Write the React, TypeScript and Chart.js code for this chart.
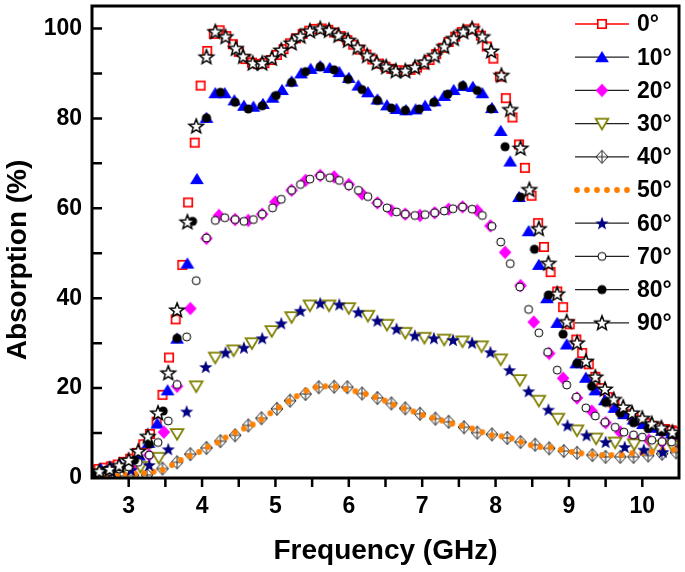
import React, { useEffect, useRef } from 'react';
import { Chart, registerables } from 'chart.js';

Chart.register(...registerables);

// ---------- axis / labels ----------
const xTickValues = [3, 4, 5, 6, 7, 8, 9, 10];
const xTickMarks = [3, 3.5, 4, 4.5, 5, 5.5, 6, 6.5, 7, 7.5, 8, 8.5, 9, 9.5, 10];
const yTickValues = [0, 20, 40, 60, 80, 100];
const yTickMarks = [10, 20, 30, 40, 50, 60, 70, 80, 90, 100];
const xTitle = 'Frequency (GHz)';
const yTitle = 'Absorption (%)';
const seriesLabels = ['0°', '10°', '20°', '30°', '40°', '50°', '60°', '70°', '80°', '90°'];

// ---------- data: [frequency GHz, absorption %] ----------
const deg0: [number, number][] = [
  [2.50,1.8],[2.59,2.0],[2.67,2.3],[2.76,2.6],[2.85,3.0],[2.93,3.6],[3.02,4.3],[3.11,5.6],[3.20,7.5],[3.29,9.8],
  [3.38,12.5],[3.46,18.5],[3.55,26.8],[3.64,35.3],[3.73,47.4],[3.81,61.3],[3.90,74.6],[3.98,87.3],[4.07,95.0],[4.16,98.8],
  [4.24,99.6],[4.33,98.3],[4.42,96.5],[4.50,94.8],[4.59,93.2],[4.68,92.4],[4.76,92.1],[4.85,92.3],[4.94,93.0],[5.02,94.1],
  [5.11,95.4],[5.20,96.7],[5.28,97.8],[5.37,98.8],[5.46,99.5],[5.54,99.9],[5.63,100.0],[5.72,99.7],[5.80,99.1],[5.89,98.3],
  [5.98,97.4],[6.06,96.4],[6.15,95.3],[6.24,94.2],[6.32,93.1],[6.41,92.2],[6.50,91.5],[6.58,91.0],[6.67,90.7],[6.76,90.6],
  [6.84,90.8],[6.93,91.3],[7.02,92.0],[7.10,93.0],[7.19,94.3],[7.28,95.7],[7.36,97.0],[7.45,98.2],[7.54,99.2],[7.62,99.8],
  [7.71,100.0],[7.80,98.4],[7.88,96.0],[7.97,93.3],[8.06,89.3],[8.14,84.5],[8.23,80.2],[8.32,74.2],[8.40,69.0],[8.49,62.8],
  [8.58,56.7],[8.66,51.4],[8.75,45.8],[8.84,41.5],[8.92,38.0],[9.01,34.2],[9.10,30.8],[9.18,27.8],[9.27,25.3],[9.36,22.5],
  [9.44,20.0],[9.53,18.0],[9.62,16.5],[9.70,15.2],[9.79,14.3],[9.88,13.5],[9.96,12.8],[10.05,12.2],[10.14,11.6],[10.22,11.2],
  [10.31,10.9],[10.40,10.6],[10.48,10.3],
];
const deg10: [number, number][] = [
  [2.62,2.0],[2.75,2.4],[2.88,2.9],[3.01,3.6],[3.14,5.0],[3.27,7.8],[3.39,12.1],[3.53,19.5],[3.66,31.0],[3.80,47.7],
  [3.93,66.5],[4.06,80.1],[4.18,85.6],[4.31,85.6],[4.44,84.0],[4.57,82.8],[4.70,82.6],[4.83,83.2],[4.96,84.6],[5.09,86.3],
  [5.22,88.2],[5.35,90.0],[5.48,91.0],[5.61,91.6],[5.74,91.2],[5.87,90.3],[6.00,89.0],[6.13,87.3],[6.26,85.8],[6.39,84.2],
  [6.52,82.9],[6.65,82.1],[6.78,81.8],[6.91,82.0],[7.04,82.8],[7.17,83.8],[7.30,85.0],[7.43,86.3],[7.56,87.2],[7.69,87.0],
  [7.82,85.6],[7.95,82.3],[8.07,77.2],[8.20,70.4],[8.32,62.5],[8.45,54.9],[8.59,47.4],[8.70,40.0],[8.84,34.5],[8.97,29.7],
  [9.10,25.5],[9.23,22.3],[9.36,19.5],[9.49,17.3],[9.62,15.6],[9.75,14.2],[9.88,13.0],[10.01,12.0],[10.14,11.2],[10.27,10.5],
  [10.40,9.9],
];
const deg20: [number, number][] = [
  [2.50,1.2],[2.70,1.5],[2.89,2.0],[3.09,3.0],[3.28,5.1],[3.48,10.2],[3.66,20.4],[3.84,37.7],[4.06,53.3],[4.23,58.4],
  [4.45,57.5],[4.63,57.3],[4.82,58.7],[5.00,61.4],[5.22,64.0],[5.41,66.2],[5.61,67.3],[5.80,67.0],[6.00,65.3],[6.18,63.2],
  [6.39,61.2],[6.58,59.5],[6.77,58.7],[6.97,58.4],[7.17,59.0],[7.36,59.8],[7.55,60.3],[7.75,59.5],[7.93,56.1],[8.13,50.2],
  [8.34,42.8],[8.52,34.7],[8.73,27.7],[8.92,22.2],[9.11,17.8],[9.31,14.9],[9.50,12.3],[9.70,10.2],[9.88,9.1],[10.09,8.4],
  [10.27,8.0],[10.46,7.8],
];
const deg30: [number, number][] = [
  [2.64,1.0],[2.90,1.5],[3.16,2.5],[3.41,4.5],[3.66,9.8],[3.92,20.4],[4.18,26.8],[4.43,28.4],[4.68,30.0],[4.95,32.7],
  [5.22,35.8],[5.47,38.4],[5.73,38.4],[6.00,37.8],[6.26,36.1],[6.52,34.1],[6.77,32.3],[7.03,31.2],[7.30,30.8],[7.55,30.4],
  [7.81,29.3],[8.07,26.4],[8.33,21.8],[8.59,17.2],[8.85,13.2],[9.11,10.6],[9.37,8.8],[9.63,7.9],[9.89,7.5],[10.15,7.2],
  [10.41,7.1],
];
const deg40: [number, number][] = [
  [2.50,0.5],[2.69,0.5],[2.88,0.5],[3.06,0.6],[3.25,0.7],[3.46,2.1],[3.66,3.5],[3.84,5.3],[4.06,6.7],[4.25,8.2],
  [4.45,9.5],[4.63,11.7],[4.81,13.3],[5.02,15.4],[5.20,17.2],[5.41,18.7],[5.59,20.2],[5.80,20.3],[5.98,20.2],[6.18,18.8],
  [6.39,17.8],[6.58,16.6],[6.77,15.5],[6.97,14.3],[7.18,13.2],[7.36,12.5],[7.57,11.3],[7.75,10.1],[7.95,9.7],[8.16,8.9],
  [8.34,8.0],[8.54,7.4],[8.73,6.6],[8.93,6.0],[9.11,5.6],[9.32,5.1],[9.50,4.7],[9.70,4.7],[9.88,4.7],[10.08,5.0],
  [10.27,5.4],[10.46,5.7],
];
const deg50: [number, number][] = [
  [2.59,0.3],[2.71,0.4],[2.84,0.6],[2.96,0.7],[3.09,0.9],[3.21,1.1],[3.34,1.4],[3.46,1.8],[3.59,2.9],[3.71,4.0],
  [3.83,4.9],[3.96,5.8],[4.08,6.9],[4.21,7.9],[4.32,9.0],[4.45,10.1],[4.57,11.0],[4.69,11.9],[4.81,13.0],[4.93,14.4],
  [5.05,15.7],[5.18,17.1],[5.29,18.2],[5.42,19.4],[5.55,20.2],[5.68,20.4],[5.82,20.3],[5.96,19.8],[6.09,19.3],[6.23,18.7],
  [6.36,18.0],[6.49,17.2],[6.61,16.3],[6.75,15.5],[6.88,14.8],[7.01,14.0],[7.14,13.4],[7.27,12.8],[7.41,12.1],[7.54,11.6],
  [7.68,11.0],[7.82,10.2],[7.95,9.5],[8.08,9.3],[8.22,8.8],[8.35,8.0],[8.48,7.3],[8.61,6.9],[8.75,6.8],[8.89,6.3],
  [9.04,5.8],[9.17,5.5],[9.32,5.2],[9.45,5.1],[9.58,5.1],[9.72,5.1],[9.86,5.5],[10.00,5.6],[10.13,5.8],[10.28,6.2],
  [10.43,6.3],
];
const deg60: [number, number][] = [
  [2.51,1.0],[2.77,1.4],[3.03,1.8],[3.28,2.9],[3.54,6.4],[3.79,14.8],[4.05,24.7],[4.32,27.9],[4.57,29.0],[4.82,31.1],
  [5.08,34.4],[5.34,37.2],[5.61,38.9],[5.87,38.6],[6.13,36.9],[6.39,35.0],[6.65,33.2],[6.90,31.7],[7.16,31.1],[7.42,30.7],
  [7.68,30.1],[7.93,28.0],[8.19,24.0],[8.45,19.3],[8.72,15.2],[8.98,11.7],[9.24,9.5],[9.50,8.0],[9.76,6.9],[10.02,6.3],
  [10.28,5.8],
];
const deg70: [number, number][] = [
  [2.50,1.0],[2.61,1.2],[2.74,1.5],[2.87,2.0],[3.00,2.5],[3.13,3.5],[3.28,5.1],[3.40,7.9],[3.54,12.7],[3.66,20.8],
  [3.79,31.4],[3.92,43.9],[4.06,53.4],[4.18,57.3],[4.31,57.9],[4.45,57.5],[4.57,57.1],[4.70,57.5],[4.82,58.7],[4.96,60.1],
  [5.08,62.0],[5.22,64.0],[5.34,65.3],[5.47,66.5],[5.61,67.2],[5.74,66.8],[5.87,66.2],[6.00,65.0],[6.13,64.0],[6.26,62.6],
  [6.39,61.2],[6.52,60.1],[6.65,59.2],[6.77,58.7],[6.90,58.4],[7.04,58.6],[7.17,59.0],[7.30,59.4],[7.42,59.9],[7.55,60.3],
  [7.68,59.8],[7.82,58.4],[7.95,56.0],[8.07,52.5],[8.20,47.7],[8.33,42.5],[8.45,37.5],[8.59,32.3],[8.71,28.0],[8.84,24.0],
  [8.97,20.7],[9.10,18.0],[9.23,15.6],[9.36,13.8],[9.49,12.4],[9.63,11.3],[9.75,10.2],[9.88,9.6],[10.00,9.1],[10.13,8.4],
  [10.27,8.1],[10.40,8.0],
];
const deg80: [number, number][] = [
  [2.50,1.2],[2.70,1.8],[2.89,2.5],[3.08,4.0],[3.28,7.5],[3.47,14.9],[3.66,31.1],[3.87,57.1],[4.06,80.1],[4.25,85.8],
  [4.45,83.6],[4.63,82.1],[4.82,82.8],[5.01,85.1],[5.22,88.0],[5.41,90.4],[5.61,91.5],[5.80,90.8],[5.99,88.7],[6.18,86.4],
  [6.39,84.0],[6.58,82.3],[6.77,81.8],[6.96,82.1],[7.16,83.6],[7.35,85.4],[7.55,87.3],[7.75,86.2],[7.94,82.1],[8.13,73.7],
  [8.34,62.5],[8.53,50.9],[8.72,40.7],[8.92,32.0],[9.11,25.5],[9.31,20.4],[9.50,16.8],[9.70,14.4],[9.88,12.3],[10.08,11.0],
  [10.27,10.2],[10.45,9.6],
];
const deg90: [number, number][] = [
  [2.60,1.5],[2.74,2.0],[2.87,2.8],[3.00,4.0],[3.13,6.0],[3.26,9.3],[3.40,14.5],[3.54,23.4],[3.66,37.4],[3.80,57.0],
  [3.92,78.3],[4.06,93.7],[4.18,99.3],[4.32,98.2],[4.46,95.6],[4.56,93.8],[4.69,92.3],[4.82,92.3],[4.95,93.4],[5.08,95.2],
  [5.22,96.8],[5.34,98.3],[5.47,99.5],[5.61,100.0],[5.73,99.6],[5.86,98.5],[5.99,97.4],[6.12,95.8],[6.25,94.0],[6.38,92.4],
  [6.51,91.5],[6.64,90.6],[6.77,90.6],[6.90,91.4],[7.03,92.5],[7.17,94.0],[7.30,96.0],[7.43,97.8],[7.56,99.3],[7.68,100.0],
  [7.82,98.2],[7.94,95.0],[8.08,89.6],[8.20,82.0],[8.34,73.4],[8.46,64.2],[8.59,55.5],[8.72,47.8],[8.84,41.0],[8.97,34.8],
  [9.11,30.1],[9.23,26.0],[9.36,22.5],[9.49,19.8],[9.61,17.5],[9.74,15.8],[9.86,14.5],[10.00,13.3],[10.13,12.1],[10.26,11.2],
  [10.41,10.2],
];

const allSeries = [deg0, deg10, deg20, deg30, deg40, deg50, deg60, deg70, deg80, deg90];
const markerKinds = ['square', 'triUp', 'diamond', 'triDown', 'diamondCross', 'dot', 'starNavy', 'circleOpen', 'circleFilled', 'starOpen'];

const FONT = "'Liberation Sans', Arial, Helvetica, sans-serif";

function starPath(ctx: CanvasRenderingContext2D, cx: number, cy: number, ro: number, ri: number) {
  ctx.beginPath();
  for (let i = 0; i < 10; i++) {
    const r = i % 2 === 0 ? ro : ri;
    const a = -Math.PI / 2 + (i * Math.PI) / 5;
    const px = cx + r * Math.cos(a);
    const py = cy + r * Math.sin(a);
    if (i === 0) ctx.moveTo(px, py);
    else ctx.lineTo(px, py);
  }
  ctx.closePath();
}

function makeMarker(kind: string): HTMLCanvasElement {
  const S = 20;
  const c = document.createElement('canvas');
  c.width = S;
  c.height = S;
  const ctx = c.getContext('2d') as CanvasRenderingContext2D;
  const m = S / 2;
  ctx.lineJoin = 'miter';
  switch (kind) {
    case 'square':
      ctx.fillStyle = '#fff';
      ctx.fillRect(m - 4.2, m - 4.2, 8.4, 8.4);
      ctx.strokeStyle = '#ff0000';
      ctx.lineWidth = 1.7;
      ctx.strokeRect(m - 4.2, m - 4.2, 8.4, 8.4);
      break;
    case 'triUp':
      ctx.fillStyle = '#0000ff';
      ctx.beginPath();
      ctx.moveTo(m, m - 6.3);
      ctx.lineTo(m + 6.9, m + 5.1);
      ctx.lineTo(m - 6.9, m + 5.1);
      ctx.closePath();
      ctx.fill();
      break;
    case 'diamond':
      ctx.fillStyle = '#ff00ff';
      ctx.beginPath();
      ctx.moveTo(m, m - 6.7);
      ctx.lineTo(m + 6.3, m);
      ctx.lineTo(m, m + 6.7);
      ctx.lineTo(m - 6.3, m);
      ctx.closePath();
      ctx.fill();
      break;
    case 'triDown':
      ctx.fillStyle = '#fff';
      ctx.strokeStyle = '#808000';
      ctx.lineWidth = 1.8;
      ctx.beginPath();
      ctx.moveTo(m - 6.3, m - 4.8);
      ctx.lineTo(m + 6.3, m - 4.8);
      ctx.lineTo(m, m + 5.8);
      ctx.closePath();
      ctx.fill();
      ctx.stroke();
      break;
    case 'diamondCross':
      ctx.fillStyle = '#fff';
      ctx.strokeStyle = '#222';
      ctx.lineWidth = 1;
      ctx.beginPath();
      ctx.moveTo(m, m - 6.5);
      ctx.lineTo(m + 6, m);
      ctx.lineTo(m, m + 6.5);
      ctx.lineTo(m - 6, m);
      ctx.closePath();
      ctx.fill();
      ctx.stroke();
      ctx.beginPath();
      ctx.moveTo(m, m - 6.5);
      ctx.lineTo(m, m + 6.5);
      ctx.moveTo(m - 6, m);
      ctx.lineTo(m + 6, m);
      ctx.stroke();
      break;
    case 'dot':
      ctx.fillStyle = '#ff8000';
      ctx.beginPath();
      ctx.arc(m, m, 2.9, 0, Math.PI * 2);
      ctx.fill();
      break;
    case 'starNavy':
      ctx.fillStyle = '#000080';
      starPath(ctx, m, m + 0.6, 7, 2.9);
      ctx.fill();
      break;
    case 'circleOpen':
      ctx.fillStyle = '#fff';
      ctx.strokeStyle = '#000';
      ctx.lineWidth = 1;
      ctx.beginPath();
      ctx.arc(m, m, 4, 0, Math.PI * 2);
      ctx.fill();
      ctx.stroke();
      break;
    case 'circleFilled':
      ctx.fillStyle = '#000';
      ctx.beginPath();
      ctx.arc(m, m, 4.6, 0, Math.PI * 2);
      ctx.fill();
      break;
    case 'starOpen':
      ctx.fillStyle = '#fff';
      ctx.strokeStyle = '#000';
      ctx.lineWidth = 1.5;
      starPath(ctx, m, m + 0.6, 7.5, 3.2);
      ctx.fill();
      ctx.stroke();
      break;
  }
  return c;
}

export default function App() {
  const ref = useRef<HTMLCanvasElement>(null);

  useEffect(() => {
    const canvas = ref.current;
    if (!canvas) return;
    const markers = markerKinds.map((k) => makeMarker(k));

    const overlay = {
      id: 'frameTicksLegend',
      afterDraw(chart: any) {
        const { ctx, chartArea: a, scales } = chart;
        const xs = scales.x;
        const ys = scales.y;
        ctx.save();
        ctx.strokeStyle = '#000';
        ctx.lineWidth = 2.5;
        ctx.beginPath();
        for (const v of xTickMarks) {
          const px = xs.getPixelForValue(v);
          ctx.moveTo(px, a.bottom);
          ctx.lineTo(px, a.bottom + 9);
        }
        for (const v of yTickMarks) {
          const py = ys.getPixelForValue(v);
          ctx.moveTo(a.left, py);
          ctx.lineTo(a.left + 10, py);
        }
        ctx.stroke();
        ctx.lineWidth = 3;
        ctx.strokeRect(a.left, a.top, a.right - a.left, a.bottom - a.top);

        // titles
        ctx.fillStyle = '#000';
        ctx.font = `bold 28px ${FONT}`;
        ctx.textAlign = 'center';
        ctx.textBaseline = 'middle';
        ctx.fillText(xTitle, (a.left + a.right) / 2, 551);
        ctx.save();
        ctx.translate(18, 260);
        ctx.rotate(-Math.PI / 2);
        ctx.fillText(yTitle, 0, 0);
        ctx.restore();

        // legend
        const lx0 = 575;
        const lx1 = 629;
        const lxm = 602;
        ctx.font = `bold 23px ${FONT}`;
        ctx.textAlign = 'left';
        seriesLabels.forEach((lab, i) => {
          const y = 24 + i * 33.2;
          if (i === 5) {
            ctx.fillStyle = '#ff8000';
            for (let k = 0; k < 6; k++) {
              ctx.beginPath();
              ctx.arc(lx0 + 2 + k * 10, y, 2.9, 0, Math.PI * 2);
              ctx.fill();
            }
          } else {
            ctx.strokeStyle = i === 0 ? '#ff0000' : '#222';
            ctx.lineWidth = 1.3;
            ctx.beginPath();
            ctx.moveTo(lx0, y);
            ctx.lineTo(lx1, y);
            ctx.stroke();
            const mk = markers[i];
            ctx.drawImage(mk, lxm - mk.width / 2, y - mk.height / 2);
          }
          ctx.fillStyle = '#000';
          ctx.fillText(lab, 637, y + 1);
        });
        ctx.restore();
      },
    };

    const datasets = allSeries.map((s, i) => ({
      label: seriesLabels[i],
      data: s.map(([x, y]) => ({ x, y })),
      pointStyle: markers[i],
      pointRadius: 5,
      pointHoverRadius: 5,
      showLine: false,
      order: allSeries.length - 1 - i,
    }));

    const chart = new Chart(canvas, {
      type: 'scatter',
      data: { datasets },
      options: {
        animation: false,
        responsive: false,
        devicePixelRatio: 1,
        events: [],
        layout: { padding: { top: 2, right: 4, left: 0, bottom: 0 } },
        plugins: { legend: { display: false }, tooltip: { enabled: false } },
        scales: {
          x: {
            type: 'linear',
            min: 2.5,
            max: 10.5,
            grid: { display: false, drawTicks: false },
            border: { display: false },
            afterFit: (s: any) => {
              s.height = 94;
              s.paddingLeft = 0;
              s.paddingRight = 0;
            },
            afterBuildTicks: (s: any) => {
              s.ticks = xTickValues.map((v) => ({ value: v }));
            },
            ticks: {
              padding: 15,
              color: '#000',
              maxRotation: 0,
              font: { family: FONT, size: 23, weight: 'bold' },
              callback: (v: any) => String(v),
            },
          },
          y: {
            type: 'linear',
            min: 0,
            max: 105,
            grid: { display: false, drawTicks: false },
            border: { display: false },
            afterFit: (s: any) => {
              s.width = 92;
              s.paddingTop = 0;
              s.paddingBottom = 0;
            },
            afterBuildTicks: (s: any) => {
              s.ticks = yTickValues.map((v) => ({ value: v }));
            },
            ticks: {
              padding: 10,
              color: '#000',
              font: { family: FONT, size: 23, weight: 'bold' },
              callback: (v: any) => String(v),
            },
          },
        },
      },
      plugins: [overlay],
    } as any);

    return () => chart.destroy();
  }, []);

  return (
    <div style={{ position: 'absolute', left: 0, top: 0, width: 685, height: 572, background: '#fff' }}>
      <canvas ref={ref} width={685} height={572} style={{ display: 'block', width: 685, height: 572 }} />
    </div>
  );
}
